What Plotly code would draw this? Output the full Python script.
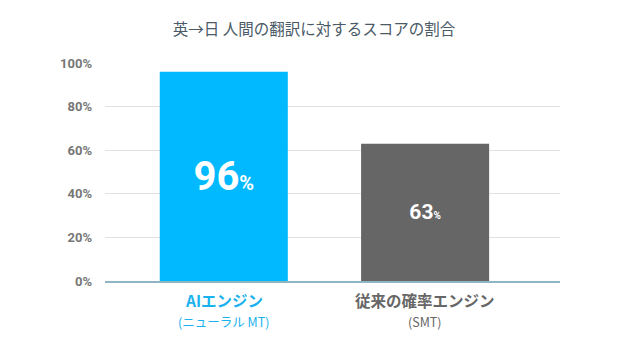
import plotly.graph_objects as go

# Data
engines = ["AIエンジン", "従来の確率エンジン"]
engine_sub = ["(ニューラル MT)", "(SMT)"]
scores = [96, 63]
y_ticks = [0, 20, 40, 60, 80, 100]
y_tick_labels = ["0%", "20%", "40%", "60%", "80%", "100%"]

bar_colors = ["#00b9ff", "#666666"]
label_colors = ["#1ab2ee", "#666666"]
value_sizes = [40, 21]

x_pos = list(range(len(engines)))
CJK = "Noto Sans CJK JP, Noto Sans, sans-serif"
NUM = "Roboto, sans-serif"

texts = [
    f"<b>{v}<span style='font-size:{int(s*0.5)}px'>%</span></b>"
    for v, s in zip(scores, value_sizes)
]

fig = go.Figure(
    go.Bar(
        x=x_pos,
        y=scores,
        width=0.636,
        marker=dict(color=bar_colors, line=dict(width=0)),
        text=texts,
        textposition="inside",
        insidetextanchor="middle",
        textangle=0,
        textfont=dict(color="white", size=value_sizes, family=NUM),
        hoverinfo="skip",
    )
)

# Category labels beneath the bars
for xp, name, sub, col in zip(x_pos, engines, engine_sub, label_colors):
    fig.add_annotation(
        x=xp, y=0, xref="x", yref="paper", yanchor="middle", yshift=-19,
        text=f"<b>{name}</b>", showarrow=False,
        font=dict(family=CJK, size=15.5, color=col),
    )
    fig.add_annotation(
        x=xp, y=0, xref="x", yref="paper", yanchor="middle", yshift=-40,
        text=sub, showarrow=False,
        font=dict(family=CJK, size=12.5, color=col),
    )

fig.update_layout(
    width=628,
    height=350,
    margin=dict(l=105, r=68, t=63, b=69),
    paper_bgcolor="white",
    plot_bgcolor="white",
    showlegend=False,
    title=dict(
        text="英→日 人間の翻訳に対するスコアの割合",
        x=0.5, xanchor="center", y=1 - 30 / 350, yanchor="middle",
        font=dict(family=CJK, size=15.5, color="#4a5a66"),
    ),
    xaxis=dict(
        range=[-0.59, 1.67],
        showgrid=False,
        zeroline=False,
        showticklabels=False,
        showline=True,
        linecolor="#8fb4c2",
        linewidth=2,
        fixedrange=True,
    ),
    yaxis=dict(
        range=[0, 100],
        tickvals=y_ticks,
        ticktext=[f"<b>{t}</b>" for t in y_tick_labels],
        tickfont=dict(family=NUM, size=13, color="#777777"),
        showgrid=True,
        gridcolor="#e2e2e2",
        gridwidth=1,
        zeroline=False,
        ticks="",
        ticklabelstandoff=12,
        fixedrange=True,
    ),
)

fig.write_html("out.html")
